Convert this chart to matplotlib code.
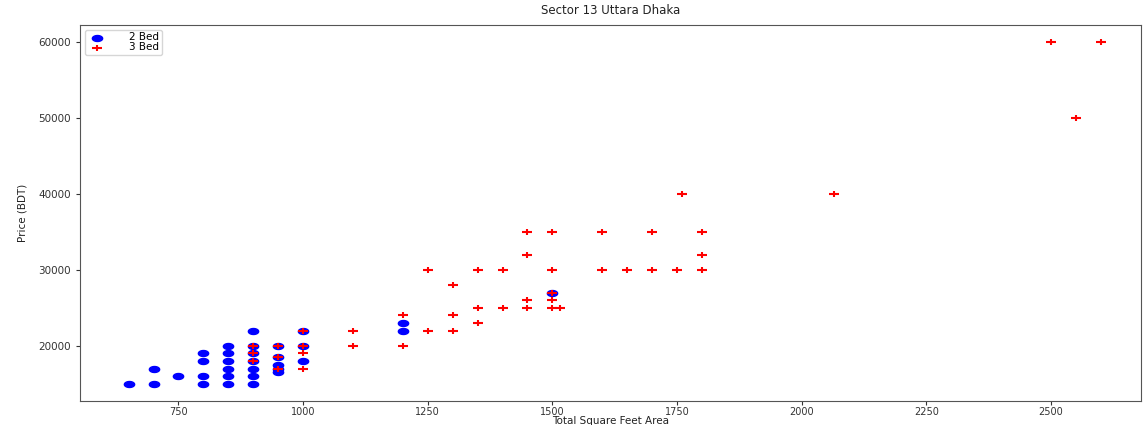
import numpy as np
import matplotlib
matplotlib.use("Agg")
import matplotlib.pyplot as plt
from matplotlib.path import Path

# 2 bedroom listings
bed2_sqft = [650, 700, 700, 750,
             800, 800, 800, 800,
             850, 850, 850, 850, 850, 850,
             900, 900, 900, 900, 900, 900, 900,
             950, 950, 950, 950, 950,
             1000, 1000, 1000,
             1200, 1200,
             1500]
bed2_price = [15000, 15000, 17000, 16000,
              15000, 16000, 18000, 19000,
              15000, 16000, 17000, 18000, 19000, 20000,
              15000, 16000, 17000, 18000, 19000, 20000, 22000,
              16500, 17000, 17500, 18500, 20000,
              18000, 20000, 22000,
              22000, 23000,
              27000]

# 3 bedroom listings
bed3_sqft = [900, 900, 900,
             950, 950, 950,
             1000, 1000, 1000, 1000,
             1100, 1100,
             1200, 1200,
             1250, 1250,
             1300, 1300, 1300,
             1350, 1350, 1350,
             1400, 1400,
             1450, 1450, 1450, 1450,
             1500, 1500, 1500, 1500, 1500,
             1515,
             1600, 1600,
             1650,
             1700, 1700,
             1750, 1760,
             1800, 1800, 1800,
             2065, 2500, 2550, 2600]
bed3_price = [18000, 19000, 20000,
              17000, 18500, 20000,
              17000, 19000, 20000, 22000,
              20000, 22000,
              20000, 24000,
              22000, 30000,
              22000, 24000, 28000,
              23000, 25000, 30000,
              25000, 30000,
              25000, 26000, 32000, 35000,
              25000, 26000, 27000, 30000, 35000,
              25000,
              30000, 35000,
              30000,
              30000, 35000,
              30000, 40000,
              30000, 32000, 35000,
              40000, 60000, 50000, 60000]

# the original picture is stretched sideways, so use wide markers
t = np.linspace(0, 2 * np.pi, 40)
ellipse = Path(np.column_stack([np.cos(t), 0.58 * np.sin(t)]), closed=True)
plus = Path([(-1, 0), (1, 0), (0, -0.65), (0, 0.65)],
            [Path.MOVETO, Path.LINETO, Path.MOVETO, Path.LINETO])

plt.rcParams['font.family'] = ['DejaVu Sans']
fig = plt.figure(figsize=(11.43, 4.25), dpi=100)
ax = fig.add_axes([0.070, 0.0565, 0.928, 0.8855])

ax.scatter(bed2_sqft, bed2_price, marker=ellipse, color='blue', s=55, label='2 Bed')
ax.scatter(bed3_sqft, bed3_price, marker=plus, color='red', s=55, linewidths=1.5, label='3 Bed')

ax.set_xlim(552.5, 2680)
ax.set_title('Sector 13 Uttara Dhaka', fontsize=8.5, color='#222222', pad=8)
ax.set_xlabel('Total Square Feet Area', fontsize=7.5, color='#222222', labelpad=-1)
ax.set_ylabel('Price (BDT)', fontsize=7.5, color='#222222', labelpad=8)
ax.tick_params(labelsize=7.5, colors='#333333', length=3)
ax.tick_params(axis='x', labelsize=7, pad=1.5)
for s in ax.spines.values():
    s.set_color('#555555')
    s.set_linewidth(0.8)

ax.legend(loc='upper left', fontsize=7.5, handletextpad=2.2, borderpad=0.25,
          labelspacing=0.0, handlelength=1.8, borderaxespad=0.5)

fig.savefig('out.png', dpi=100)
